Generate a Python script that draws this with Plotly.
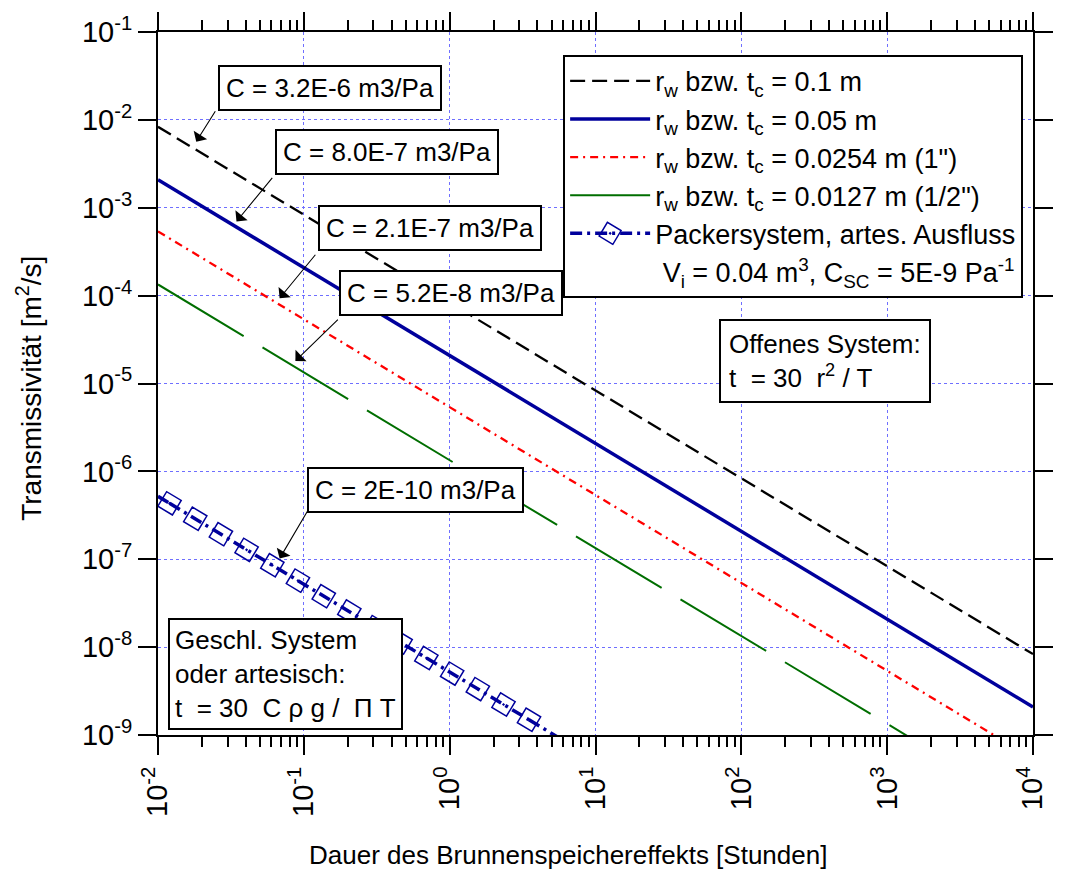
import plotly.graph_objects as go

FONT = "Liberation Sans, Arial, sans-serif"

# ---- data ----
t_line = [0.01, 10000]                       # hours
T_r0100 = [8.33e-3, 8.33e-9]                 # r = 0.1 m
T_r0050 = [2.08e-3, 2.08e-9]                 # r = 0.05 m
T_r0254 = [5.38e-4, 5.38e-10]                # r = 0.0254 m
T_r0127 = [1.34e-4, 1.34e-10]                # r = 0.0127 m

packer_t = [0.012, 0.018, 0.027, 0.0405, 0.0608, 0.0911, 0.137, 0.205,
            0.308, 0.461, 0.692, 1.04, 1.56, 2.34, 3.50]
packer_T = [4.33e-7, 2.89e-7, 1.93e-7, 1.28e-7, 8.55e-8, 5.71e-8, 3.80e-8,
            2.54e-8, 1.69e-8, 1.13e-8, 7.51e-9, 5.00e-9, 3.33e-9, 2.22e-9, 1.49e-9]
packer_tail_t = [0.01, 0.012, None, 3.50, 10]
packer_tail_T = [5.2e-7, 4.33e-7, None, 1.49e-9, 5.2e-10]

x_tickvals = [1e-2, 1e-1, 1e0, 1e1, 1e2, 1e3, 1e4]
x_ticktext = ["10<sup>-2</sup>", "10<sup>-1</sup>", "10<sup>0</sup>", "10<sup>1</sup>",
              "10<sup>2</sup>", "10<sup>3</sup>", "10<sup>4</sup>"]
y_tickvals = [1e-9, 1e-8, 1e-7, 1e-6, 1e-5, 1e-4, 1e-3, 1e-2, 1e-1]
y_ticktext = ["10<sup>-9</sup>", "10<sup>-8</sup>", "10<sup>-7</sup>", "10<sup>-6</sup>",
              "10<sup>-5</sup>", "10<sup>-4</sup>", "10<sup>-3</sup>", "10<sup>-2</sup>",
              "10<sup>-1</sup>"]

names = ["r<sub>w</sub> bzw. t<sub>c</sub> = 0.1 m",
         "r<sub>w</sub> bzw. t<sub>c</sub> = 0.05 m",
         "r<sub>w</sub> bzw. t<sub>c</sub> = 0.0254 m (1\")",
         "r<sub>w</sub> bzw. t<sub>c</sub> = 0.0127 m (1/2\")",
         "Packersystem, artes. Ausfluss",
         "\u00a0V<sub>i</sub> = 0.04 m<sup>3</sup>, C<sub>SC</sub> = 5E-9 Pa<sup>-1</sup>"]

NAVY = "#00009c"

fig = go.Figure()
fig.add_trace(go.Scatter(x=t_line, y=T_r0100, mode="lines", name=names[0],
                         line=dict(color="black", width=2.3, dash="15px,7px")))
fig.add_trace(go.Scatter(x=t_line, y=T_r0050, mode="lines", name=names[1],
                         line=dict(color=NAVY, width=3.5)))
fig.add_trace(go.Scatter(x=t_line, y=T_r0254, mode="lines", name=names[2],
                         line=dict(color="#ff0000", width=2.3, dash="8px,5px,2px,5px")))
fig.add_trace(go.Scatter(x=t_line, y=T_r0127, mode="lines", name=names[3],
                         line=dict(color="#006e00", width=2, dash="100px,22px")))
fig.add_trace(go.Scatter(x=packer_tail_t, y=packer_tail_T, mode="lines", showlegend=False,
                         line=dict(color=NAVY, width=3.5, dash="12px,5px,3px,5px")))
fig.add_trace(go.Scatter(x=packer_t, y=packer_T, mode="lines+markers", name=names[4],
                         line=dict(color=NAVY, width=3.5, dash="12px,5px,3px,5px"),
                         marker=dict(symbol="square-open-dot", size=17, angle=31,
                                     color=NAVY, line=dict(color=NAVY, width=1.5))))
fig.add_trace(go.Scatter(x=[None], y=[None], mode="lines", name=names[5],
                         line=dict(color="rgba(0,0,0,0)", width=1)))

axis_common = dict(type="log", showline=True, linecolor="black", linewidth=2,
                   mirror="allticks", ticks="outside", ticklen=18, tickwidth=2,
                   tickcolor="black", showgrid=True, gridcolor="#6f6fff",
                   griddash="dot", gridwidth=1.2, zeroline=False, tickmode="array",
                   tickfont=dict(family=FONT, size=29, color="black"))

fig.update_xaxes(range=[-2, 4], tickangle=-90, tickvals=x_tickvals, ticktext=x_ticktext,
                 minor=dict(ticks="outside", ticklen=10, tickwidth=2,
                            tickcolor="black", dtick="D1", showgrid=False),
                 **axis_common)
fig.update_yaxes(range=[-9, -1], tickvals=y_tickvals, ticktext=y_ticktext, **axis_common)

box = dict(font=dict(family=FONT, size=26, color="black"), bgcolor="white",
           bordercolor="black", borderwidth=2, borderpad=6, showarrow=False,
           xref="paper", yref="paper", xanchor="center", yanchor="middle")

labels = [("C = 3.2E-6 m3/Pa", 0.196, 0.9206),
          ("C = 8.0E-7 m3/Pa", 0.2612, 0.8298),
          ("C = 2.1E-7 m3/Pa", 0.3105, 0.7206),
          ("C = 5.2E-8 m3/Pa", 0.3352, 0.6284),
          ("C = 2E-10 m3/Pa", 0.2948, 0.3489)]
arrows = [(0.0437, 0.8440, 20, -32),
          (0.0897, 0.7305, 37, -45),
          (0.1390, 0.6213, 37, -45),
          (0.1570, 0.5319, 44, -43),
          (0.1390, 0.2511, 30, -51)]

for (xt, yt, ax, ay) in arrows:
    fig.add_annotation(x=xt, y=yt, xref="paper", yref="paper", text="",
                       showarrow=True, ax=ax, ay=ay, arrowhead=1, arrowsize=2.4,
                       arrowwidth=1.1, arrowcolor="black", standoff=0)
for (txt, x, y) in labels:
    fig.add_annotation(text=txt, x=x, y=y, **box)

NB = "\u00a0"
box_ml = dict(box, borderpad=8)
fig.add_annotation(text="Offenes System:<br>t" + NB * 2 + "= 30" + NB * 2 + "r<sup>2</sup> / T",
                   x=0.7623, y=0.5319, align="left", **box_ml)
fig.add_annotation(text="Geschl. System<br>oder artesisch:<br>t" + NB * 2 + "= 30" + NB * 2
                        + "C ρ g /" + NB * 2 + "Π T",
                   x=0.1457, y=0.0865, align="left", **dict(box, borderpad=5))

# axis titles
fig.add_annotation(text="Dauer des Brunnenspeichereffekts [Stunden]", x=0.468, y=-0.170,
                   xref="paper", yref="paper", showarrow=False, xanchor="center",
                   yanchor="middle", font=dict(family=FONT, size=26, color="black"))
fig.add_annotation(text="Transmissivität [m<sup>2</sup>/s]", x=-0.147, y=0.493,
                   xref="paper", yref="paper", showarrow=False, xanchor="center",
                   yanchor="middle", textangle=-90,
                   font=dict(family=FONT, size=28, color="black"))

fig.update_layout(
    width=1065, height=882,
    margin=dict(l=158, r=15, t=30, b=147),
    plot_bgcolor="white", paper_bgcolor="white",
    font=dict(family=FONT, color="black"),
    legend=dict(x=0.463, y=0.9674, xanchor="left", yanchor="top",
                bgcolor="white", bordercolor="black", borderwidth=2,
                font=dict(family=FONT, size=27, color="black"),
                itemwidth=80, tracegroupgap=0),
)

fig.write_html("out.html")
